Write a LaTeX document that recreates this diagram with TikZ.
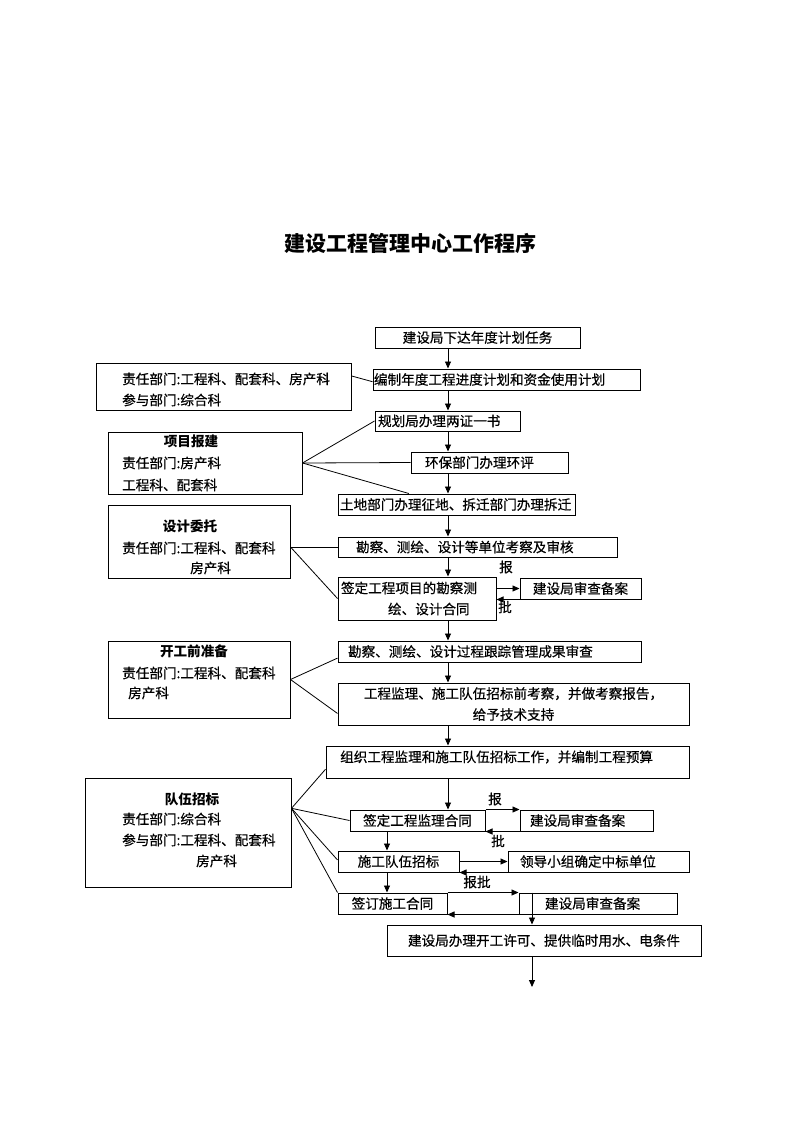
\documentclass[tikz,border=0pt]{standalone}
\usepackage{fontspec}
\setmainfont{Noto Sans CJK SC}
\newfontfamily\bodyface{Noto Sans CJK SC}[FakeBold=0.5]
\usetikzlibrary{arrows.meta,calc}
\newcommand\bodyfnt{\bodyface\fontsize{13.6}{21}\selectfont}
\newcommand\headfnt{\fontsize{13.6}{21}\selectfont\bfseries}
\newcommand\titlefnt{\fontsize{21}{24}\selectfont\bfseries}
\begin{document}
\begin{tikzpicture}[x=1pt,y=-1pt,
  box/.style={draw, line width=1pt, inner sep=0pt, font=\bodyfnt},
  lbox/.style={box, align=left},
  txt/.style={font=\bodyfnt, inner sep=0pt, anchor=west},
  head/.style={font=\headfnt, inner sep=0pt},
  lbl/.style={font=\bodyfnt, inner sep=0pt},
  arr/.style={-{Triangle[length=7pt,width=6pt]}, line width=0.9pt},
  ln/.style={line width=0.8pt}]
\fill[white] (0,0) rectangle (800,1132);
\useasboundingbox (0,0) rectangle (800,1132);

\node[font=\titlefnt, inner sep=0pt] (title) at (410,243) {建设工程管理中心工作程序};

% main column boxes
\node[box, minimum width=205, minimum height=21] (b1) at (477.5,337.5) {建设局下达年度计划任务};
\node[lbox, text width=267, minimum height=21] (b2) at (506.5,379.5) {\hspace*{1pt}编制年度工程进度计划和资金使用计划};
\node[lbox, text width=145, minimum height=20] (b3) at (447.5,421) {\hspace*{3pt}规划局办理两证一书};
\node[lbox, text width=157, minimum height=21] (b4) at (489.5,462.5) {\hspace*{14pt}环保部门办理环评};
\node[lbox, text width=237, minimum height=21] (b5) at (456.5,504.5) {\hspace*{2pt}土地部门办理征地、拆迁部门办理拆迁};
\node[lbox, text width=279, minimum height=20] (b6) at (477.5,547) {\hspace*{18pt}勘察、测绘、设计等单位考察及审核};
\node[lbox, text width=158, minimum height=43] (b7) at (417,598.5) {\hspace*{3pt}签定工程项目的勘察测\\\hspace*{50pt}绘、设计合同};
\node[box, minimum width=121, minimum height=21] (b8) at (580.5,588.5) {建设局审查备案};
\node[lbox, text width=303, minimum height=21] (b9) at (489.5,651.5) {\hspace*{10pt}勘察、测绘、设计过程跟踪管理成果审查};
\node[box, text width=351, align=center, minimum height=42] (b10) at (513.5,704) {工程监理、施工队伍招标前考察，并做考察报告，\\给予技术支持};
\node[box, minimum width=363, minimum height=32] (b11) at (507.5,762) {};
\node[txt] (t11) at (340,757) {组织工程监理和施工队伍招标工作，并编制工程预算};
\node[box, minimum width=135, minimum height=21] (b12) at (417.5,820.5) {签定工程监理合同};
\node[lbox, text width=133, minimum height=21] (b13) at (586.5,820.5) {\hspace*{10pt}建设局审查备案};
\node[box, minimum width=121, minimum height=21] (b14) at (398.5,861.5) {施工队伍招标};
\node[lbox, text width=181, minimum height=21] (b15) at (598.5,861.5) {\hspace*{12pt}领导小组确定中标单位};
\node[box, minimum width=109, minimum height=21] (b16) at (392.5,903.5) {签订施工合同};
\node[lbox, text width=158, minimum height=21] (b17) at (598,903.5) {\hspace*{26pt}建设局审查备案};
\node[box, minimum width=314, minimum height=31] (b18) at (544,940.5) {\raisebox{-2pt}{建设局办理开工许可、提供临时用水、电条件}};

% left boxes
\node[box, minimum width=255, minimum height=47] (A) at (223.5,386.5) {};
\node[txt] (a1) at (122,379) {责任部门:工程科、配套科、房产科};
\node[txt] (a2) at (122,400) {参与部门:综合科};

\node[box, minimum width=194, minimum height=62] (B) at (205,463) {};
\node[head] (bh) at (191,441) {项目报建};
\node[txt] (bt1) at (122,463) {责任部门:房产科};
\node[txt] (bt2) at (122,485) {工程科、配套科};

\node[box, minimum width=182, minimum height=73] (C) at (199,541.5) {};
\node[head] (ch) at (190,526) {设计委托};
\node[txt] (ct1) at (122,548) {责任部门:工程科、配套科};
\node[txt] (ct2) at (190,568) {房产科};

\node[box, minimum width=182, minimum height=77] (D) at (199,679.5) {};
\node[head] (dh) at (194,651) {开工前准备};
\node[txt] (dt1) at (122,673) {责任部门:工程科、配套科};
\node[txt] (dt2) at (128,693) {房产科};

\node[box, minimum width=206, minimum height=109] (E) at (188,832.5) {};
\node[head] (eh) at (192,799) {队伍招标};
\node[txt] (et1) at (122,819) {责任部门:综合科};
\node[txt] (et2) at (122,840) {参与部门:工程科、配套科};
\node[txt] (et3) at (196,861) {房产科};

% labels
\node[lbl] (l1) at (506,567) {报};
\node[lbl] (l2) at (505,607) {批};
\node[lbl] (l3) at (495,799) {报};
\node[lbl] (l4) at (498,841) {批};
\node[lbl] (l5) at (477,882) {报批};

% main axis arrows
\coordinate (ax) at (448,0);
\coordinate (ax2) at (387,0);
\coordinate (ax3) at (532,0);
\draw[arr] (b1.south -| ax) -- (b2.north -| ax);
\draw[arr] (b2.south -| ax) -- (b3.north -| ax);
\draw[arr] (b3.south -| ax) -- (b4.north -| ax);
\draw[arr] (b4.south -| ax) -- (b5.north -| ax);
\draw[arr] (b5.south -| ax) -- (b6.north -| ax);
\draw[arr] (b6.south -| ax) -- (b7.north -| ax);
\draw[arr] (b7.south -| ax) -- (b9.north -| ax);
\draw[arr] (b9.south -| ax) -- (b10.north -| ax);
\draw[arr] (b10.south -| ax) -- (b11.north -| ax);
\draw[arr] (b11.south -| ax) -- (b12.north -| ax);
\draw[arr] (b12.south -| ax2) -- (b14.north -| ax2);
\draw[arr] (b14.south -| ax2) -- (b16.north -| ax2);
\draw[arr] (b17.north -| ax3) -- (b18.north -| ax3);
\coordinate (fin) at (532,987);
\draw[arr] (b18.south -| ax3) -- (fin);

% report / approve loops
\draw[arr] (b7.east |- b8.west) -- (b8.west);
\draw[arr] (b8.south west) -- (b8.south west -| b7.east);
\draw[arr] (b12.north east) -- (b13.north west);
\draw[arr] (b13.south west) -- (b12.south east);
\draw[arr] (b14.east) -- (b15.west);
\draw[arr] (b15.south west) -- (b14.south east);
\draw[arr] (b16.north east) -- (b17.north west);
\draw[arr] (b17.south west) -- (b16.south east);

% fan lines
\draw[ln] ($(A.north east)!0.28!(A.south east)$) -- ($(b2.north west)!0.6!(b2.south west)$);
\draw[ln] (B.east) -- (b3.west);
\draw[ln] (B.east) -- (b4.west);
\draw[ln] (B.east) -- ($(b5.north west)!0.3!(b5.north east)$);
\coordinate (cf) at (C.east |- b6.west);
\draw[ln] (cf) -- (b6.west);
\draw[ln] (cf) -- (b7.west);
\draw[ln] (D.east) -- ($(b9.north west)!0.8!(b9.south west)$);
\draw[ln] (D.east) -- ($(b10.north west)!0.72!(b10.south west)$);
\coordinate (ef) at ($(E.north east)!0.28!(E.south east)$);
\draw[ln] (ef) -- ($(b11.north west)!0.72!(b11.south west)$);
\draw[ln] (ef) -- (b12.west);
\draw[ln] (ef) -- ($(b14.north west)!0.43!(b14.south west)$);
\draw[ln] (ef) -- (b16.north west);
\end{tikzpicture}
\end{document}
